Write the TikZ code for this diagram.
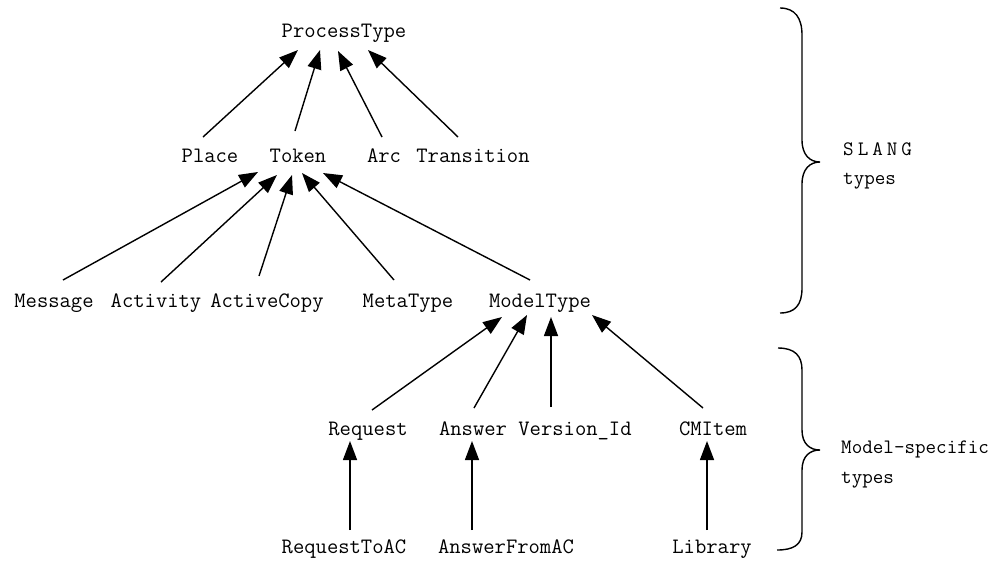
\documentclass[tikz,border=0pt]{standalone}
\usepackage{fontspec}
\usetikzlibrary{arrows.meta,calc}
\begin{document}
\begin{tikzpicture}[x=1pt,y=-1pt,
  lbl/.style={font=\ttfamily\fontsize{22}{26}\selectfont, inner sep=0pt, anchor=base},
  side/.style={font=\ttfamily\fontsize{20.5}{24}\selectfont, inner sep=0pt, anchor=base west},
  arr/.style={line width=1.4pt, -{Triangle[length=19pt,width=14pt]}},
  bracepath/.style={line width=1.4pt}]
\fill[white] (0,0) rectangle (992,560);
\useasboundingbox (0,0) rectangle (992,560);
% row 1
\node[lbl] (pt) at (344,37) {ProcessType};
% row 2
\node[lbl] (place) at (210,162) {Place};
\node[lbl] (token) at (298,162) {Token};
\node[lbl] (arc) at (384,162) {Arc};
\node[lbl] (trans) at (473,162) {Transition};
% row 3
\node[lbl] (msg) at (54,307) {Message};
\node[lbl] (act) at (156,307) {Activity};
\node[lbl] (acp) at (267,307) {ActiveCopy};
\node[lbl] (meta) at (408,307) {MetaType};
\node[lbl] (model) at (540,307) {ModelType};
% row 4
\node[lbl] (req) at (368,435) {Request};
\node[lbl] (ans) at (473,435) {Answer};
\node[lbl] (ver) at (575,435) {Version\_Id};
\node[lbl] (cmi) at (713,435) {CMItem};
% row 5
\node[lbl] (rtac) at (344,553) {RequestToAC};
\node[lbl] (afac) at (506,553) {AnswerFromAC};
\node[lbl] (lib) at (712,553) {Library};
% side labels
\node[side] (slang) at (843,155) {S\kern4pt L\kern4pt A\kern4pt N\kern4pt G};
\node[side] (types1) at (843,184) {types};
\node[side] (mspec) at (841,453) {Model-specific};
\node[side] (types2) at (841,483) {types};
% arrows to ProcessType
\draw[arr] ($(place.base)+(-7,-25)$) -- ($(pt.base)+(-46,13)$);
\draw[arr] ($(token.base)+(-3,-31)$) -- ($(pt.base)+(-24,13)$);
\draw[arr] ($(arc.base)+(-2,-25)$) -- ($(pt.base)+(-6,14)$);
\draw[arr] ($(trans.base)+(-15,-25)$) -- ($(pt.base)+(24,13)$);
% arrows to Token
\draw[arr] ($(msg.base)+(9,-27)$) -- ($(token.base)+(-40,10)$);
\draw[arr] ($(act.base)+(5,-25)$) -- ($(token.base)+(-21,13)$);
\draw[arr] ($(acp.base)+(-8,-31)$) -- ($(token.base)+(-6,13)$);
\draw[arr] ($(meta.base)+(-14,-27)$) -- ($(token.base)+(4,11)$);
\draw[arr] ($(model.base)+(-10,-27)$) -- ($(token.base)+(25,11)$);
% arrows to ModelType
\draw[arr] ($(req.base)+(4,-25)$) -- ($(model.base)+(-38,10)$);
\draw[arr] ($(ans.base)+(1,-27)$) -- ($(model.base)+(-13,8)$);
\draw[arr] ($(ver.base)+(-24,-28)$) -- ($(model.base)+(11,10)$);
\draw[arr] ($(cmi.base)+(-10,-27)$) -- ($(model.base)+(52,8)$);
% bottom arrows
\draw[arr] ($(rtac.base)+(6,-23)$) -- ($(req.base)+(-18,6)$);
\draw[arr] ($(afac.base)+(-34,-23)$) -- ($(ans.base)+(-1,6)$);
\draw[arr] ($(lib.base)+(-5,-23)$) -- ($(cmi.base)+(-6,6)$);
% braces
\draw[bracepath] (780,8) .. controls (795,8) and (802,18) .. (802,35) -- (802,140)
  .. controls (802,155) and (810,162) .. (820,162)
  .. controls (810,162) and (802,169) .. (802,184) -- (802,288)
  .. controls (802,305) and (795,313) .. (780,313);
\draw[bracepath] (778,348) .. controls (795,348) and (802,356) .. (802,370) -- (802,430)
  .. controls (802,444) and (810,450) .. (820,450)
  .. controls (810,450) and (802,456) .. (802,470) -- (802,532)
  .. controls (802,545) and (793,550) .. (777,550);
\end{tikzpicture}
\end{document}
